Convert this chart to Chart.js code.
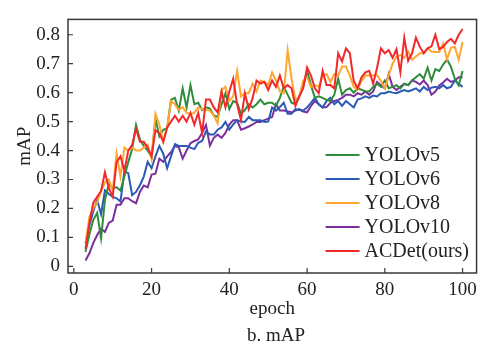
<!DOCTYPE html>
<html>
<head>
<meta charset="utf-8">
<script src="https://cdn.jsdelivr.net/npm/chart.js@4.4.1/dist/chart.umd.min.js"></script>
<style>
  html, body { margin: 0; padding: 0; background: #fff; }
  #wrap { width: 483px; height: 347px; position: relative; }
</style>
</head>
<body>
<div id="wrap"><canvas id="graficoMap"></canvas></div>
<script>
// epochs 3..100
const epochs = Array.from({ length: 98 }, (_, i) => i + 3);

const yolov5 = [
  0.05, 0.11, 0.16, 0.185, 0.097, 0.229, 0.284, 0.27, 0.273, 0.262,
  0.31, 0.36, 0.405, 0.488, 0.438, 0.416, 0.40, 0.378, 0.51, 0.449,
  0.472, 0.477, 0.576, 0.582, 0.538, 0.615, 0.549, 0.626, 0.56, 0.565,
  0.54, 0.549, 0.545, 0.521, 0.516, 0.56, 0.598, 0.543, 0.571, 0.565,
  0.527, 0.54, 0.56, 0.549, 0.56, 0.576, 0.56, 0.565, 0.565, 0.554,
  0.582, 0.62, 0.593, 0.565, 0.56, 0.587, 0.62, 0.675, 0.626, 0.582,
  0.587, 0.582, 0.575, 0.571, 0.593, 0.648, 0.593, 0.609, 0.615, 0.60,
  0.615, 0.61, 0.604, 0.604, 0.62, 0.631, 0.62, 0.642, 0.615, 0.62,
  0.626, 0.615, 0.63, 0.626, 0.642, 0.653, 0.664, 0.648, 0.686, 0.642,
  0.681, 0.675, 0.697, 0.714, 0.69, 0.648, 0.625, 0.675
];
const yolov6 = [
  0.08, 0.14, 0.19, 0.229, 0.18, 0.262, 0.25, 0.24, 0.235, 0.224,
  0.328, 0.322, 0.246, 0.257, 0.28, 0.31, 0.361, 0.339, 0.38, 0.416,
  0.389, 0.339, 0.38, 0.422, 0.416, 0.416, 0.416, 0.41, 0.405, 0.427,
  0.433, 0.466, 0.455, 0.455, 0.472, 0.48, 0.499, 0.472, 0.49, 0.505,
  0.50, 0.499, 0.516, 0.505, 0.505, 0.505, 0.499, 0.50, 0.549, 0.538,
  0.55, 0.565, 0.527, 0.527, 0.543, 0.54, 0.538, 0.549, 0.565, 0.582,
  0.56, 0.549, 0.571, 0.582, 0.56, 0.571, 0.554, 0.571, 0.56, 0.549,
  0.576, 0.58, 0.587, 0.582, 0.59, 0.587, 0.598, 0.598, 0.604, 0.60,
  0.598, 0.604, 0.609, 0.604, 0.609, 0.615, 0.604, 0.62, 0.609, 0.617,
  0.62, 0.615, 0.626, 0.615, 0.62, 0.642, 0.631, 0.62
];
const yolov8 = [
  0.08, 0.17, 0.20, 0.22, 0.26, 0.29, 0.30, 0.26, 0.39, 0.31,
  0.41, 0.40, 0.41, 0.40, 0.40, 0.41, 0.42, 0.37, 0.527, 0.49,
  0.43, 0.48, 0.571, 0.56, 0.54, 0.55, 0.53, 0.527, 0.53, 0.549,
  0.543, 0.54, 0.538, 0.521, 0.494, 0.609, 0.62, 0.571, 0.587, 0.675,
  0.587, 0.598, 0.598, 0.631, 0.604, 0.642, 0.637, 0.626, 0.67, 0.642,
  0.604, 0.598, 0.747, 0.648, 0.576, 0.587, 0.642, 0.653, 0.62, 0.626,
  0.62, 0.659, 0.664, 0.637, 0.664, 0.659, 0.69, 0.69, 0.659, 0.62,
  0.61, 0.64, 0.659, 0.659, 0.66, 0.66, 0.64, 0.615, 0.66, 0.70,
  0.725, 0.73, 0.72, 0.742, 0.714, 0.725, 0.736, 0.736, 0.753, 0.742,
  0.74, 0.74, 0.77, 0.715, 0.755, 0.758, 0.714, 0.775
];
const yolov10 = [
  0.02, 0.045, 0.08, 0.108, 0.13, 0.119, 0.15, 0.158, 0.213, 0.213,
  0.235, 0.235, 0.225, 0.218, 0.257, 0.279, 0.273, 0.317, 0.32, 0.372,
  0.361, 0.38, 0.394, 0.416, 0.411, 0.372, 0.40, 0.425, 0.433, 0.438,
  0.461, 0.488, 0.417, 0.444, 0.455, 0.444, 0.461, 0.49, 0.505, 0.505,
  0.472, 0.477, 0.483, 0.49, 0.499, 0.499, 0.505, 0.51, 0.516, 0.56,
  0.538, 0.538, 0.535, 0.532, 0.538, 0.543, 0.535, 0.532, 0.554, 0.571,
  0.56, 0.549, 0.55, 0.565, 0.571, 0.575, 0.582, 0.593, 0.593, 0.587,
  0.598, 0.593, 0.604, 0.593, 0.604, 0.637, 0.625, 0.615, 0.664, 0.62,
  0.609, 0.62, 0.631, 0.626, 0.642, 0.637, 0.628, 0.642, 0.626, 0.593,
  0.604, 0.625, 0.635, 0.648, 0.637, 0.642, 0.653, 0.653
];
const acdet = [
  0.06, 0.15, 0.22, 0.24, 0.26, 0.325, 0.27, 0.24, 0.36, 0.38,
  0.33, 0.40, 0.42, 0.475, 0.43, 0.43, 0.41, 0.38, 0.47, 0.46,
  0.43, 0.48, 0.50, 0.52, 0.50, 0.52, 0.50, 0.53, 0.49, 0.53,
  0.46, 0.576, 0.576, 0.549, 0.532, 0.604, 0.549, 0.604, 0.648, 0.56,
  0.505, 0.598, 0.543, 0.582, 0.642, 0.631, 0.637, 0.609, 0.642, 0.62,
  0.659, 0.615, 0.626, 0.615, 0.554, 0.587, 0.615, 0.687, 0.659, 0.615,
  0.598, 0.675, 0.626, 0.626, 0.615, 0.736, 0.708, 0.753, 0.736, 0.64,
  0.615, 0.653, 0.67, 0.675, 0.631, 0.686, 0.753, 0.736, 0.747, 0.72,
  0.75, 0.67, 0.79, 0.71, 0.736, 0.79, 0.758, 0.736, 0.753, 0.76,
  0.80, 0.75, 0.758, 0.775, 0.786, 0.77, 0.80, 0.82
];

const seriesNames = ['YOLOv5', 'YOLOv6', 'YOLOv8', 'YOLOv10', 'ACDet(ours)'];
const xTicks = [0, 20, 40, 60, 80, 100];
const yTicks = [0, 0.1, 0.2, 0.3, 0.4, 0.5, 0.6, 0.7, 0.8];

const serif = "'Liberation Serif', 'Times New Roman', serif";
const textColor = '#222';

function pts(vals) {
    return vals.map((v, i) => ({ x: epochs[i], y: v }));
}

// frame, inward ticks, legend in the corner and caption
const framePlugin = {
    id: 'frame',
    afterDraw(chart) {
        const { ctx, chartArea: a, scales: { x, y } } = chart;
        ctx.save();
        ctx.strokeStyle = '#3a3a3a';
        ctx.lineWidth = 1.5;
        ctx.strokeRect(a.left, a.top, a.right - a.left, a.bottom - a.top);

        ctx.lineWidth = 1.2;
        ctx.beginPath();
        x.ticks.forEach(t => {
            const px = x.getPixelForValue(t.value);
            ctx.moveTo(px, a.bottom);
            ctx.lineTo(px, a.bottom - 5);
        });
        y.ticks.forEach(t => {
            const py = y.getPixelForValue(t.value);
            ctx.moveTo(a.left, py);
            ctx.lineTo(a.left + 5, py);
        });
        ctx.stroke();

        ctx.font = '20px ' + serif;
        ctx.textBaseline = 'middle';
        ctx.textAlign = 'left';
        chart.data.datasets.forEach((ds, i) => {
            const ly = a.bottom - 118 + i * 24;
            ctx.strokeStyle = ds.borderColor;
            ctx.lineWidth = 2;
            ctx.beginPath();
            ctx.moveTo(a.right - 151, ly);
            ctx.lineTo(a.right - 117, ly);
            ctx.stroke();
            ctx.fillStyle = textColor;
            ctx.fillText(ds.label, a.right - 112, ly + 1);
        });

        ctx.font = '19px ' + serif;
        ctx.textAlign = 'center';
        ctx.fillText('b. mAP', 276, 336);
        ctx.restore();
    }
};

document.addEventListener('DOMContentLoaded', function() {
    new Chart(document.getElementById('graficoMap'), {
        type: 'line',
        data: {
            datasets: [
                { label: seriesNames[0], data: pts(yolov5), borderColor: '#2f8c3b', order: 2 },
                { label: seriesNames[1], data: pts(yolov6), borderColor: '#2b5bb5', order: 3 },
                { label: seriesNames[2], data: pts(yolov8), borderColor: '#ffa631', order: 1 },
                { label: seriesNames[3], data: pts(yolov10), borderColor: '#7c2f9c', order: 4 },
                { label: seriesNames[4], data: pts(acdet), borderColor: '#f2292b', order: 0 }
            ]
        },
        options: {
            responsive: true,
            maintainAspectRatio: false,
            animation: false,
            layout: { padding: { top: 8, right: 5, left: 0, bottom: 0 } },
            elements: {
                point: { radius: 0 },
                line: { borderWidth: 2, tension: 0 }
            },
            plugins: {
                legend: { display: false },
                tooltip: { enabled: false }
            },
            scales: {
                x: {
                    type: 'linear',
                    min: -1.5,
                    max: 103.6,
                    grid: { display: false, drawTicks: false },
                    border: { display: false },
                    afterBuildTicks: s => { s.ticks = xTicks.map(v => ({ value: v })); },
                    afterFit: s => { s.height = 74; },
                    ticks: {
                        color: textColor,
                        padding: 6,
                        maxRotation: 0,
                        font: { family: serif, size: 19 }
                    },
                    title: {
                        display: true,
                        text: 'epoch',
                        color: textColor,
                        font: { family: serif, size: 19 },
                        padding: { top: 0, bottom: 27 }
                    }
                },
                y: {
                    min: -0.023,
                    max: 0.853,
                    grid: { display: false, drawTicks: false },
                    border: { display: false },
                    afterBuildTicks: s => { s.ticks = yTicks.map(v => ({ value: v })); },
                    afterFit: s => { s.width = 68; },
                    ticks: {
                        color: textColor,
                        padding: 8,
                        font: { family: serif, size: 19 },
                        callback: v => (v === 0 ? '0' : v.toFixed(1))
                    },
                    title: {
                        display: true,
                        text: 'mAP',
                        color: textColor,
                        font: { family: serif, size: 19 },
                        padding: { top: 14, bottom: 0 }
                    }
                }
            }
        },
        plugins: [framePlugin]
    });
});
</script>
</body>
</html>
